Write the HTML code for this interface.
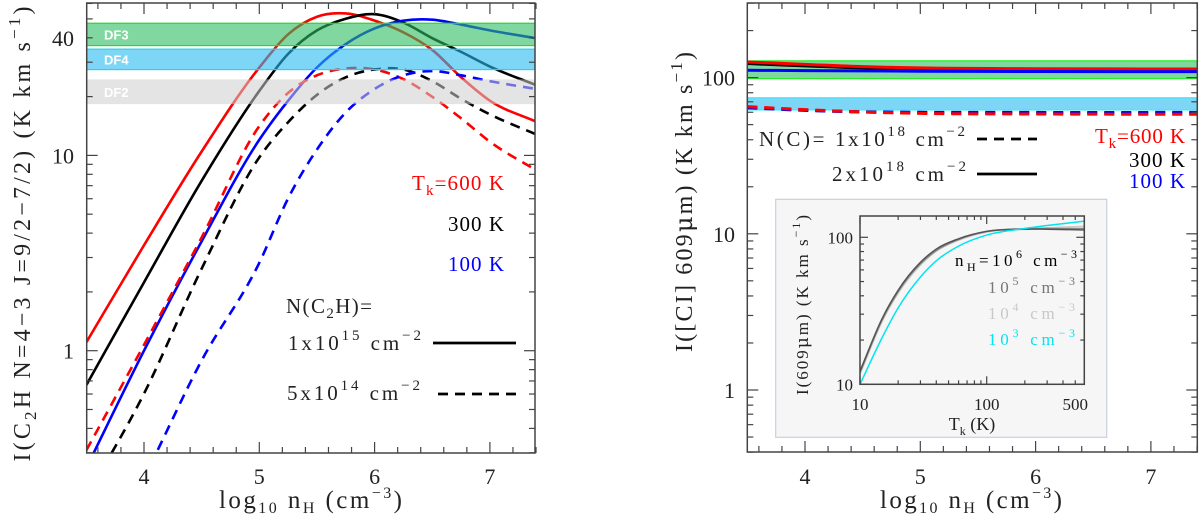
<!DOCTYPE html>
<html><head><meta charset="utf-8"><style>
html,body{margin:0;padding:0;background:#fff;overflow:hidden;width:1200px;height:522px;}
svg{display:block;font-family:"Liberation Serif","DejaVu Serif",serif;}
</style></head><body>
<svg id="fig" width="1200" height="522" viewBox="0 0 1200 522" xmlns="http://www.w3.org/2000/svg"></svg>
<script>
// ---------- data: left panel (log10 I vs log10 nH) ----------
const leftLogN = [3.5,4,4.5,5,5.25,5.5,5.75,6,6.25,6.5,6.75,7,7.4];
const c2hSolid600 = [0.043,0.54,1.02,1.45,1.62,1.71,1.727,1.69,1.63,1.54,1.40,1.28,1.173];
const c2hSolid300 = [-0.176,0.35,0.87,1.33,1.52,1.64,1.70,1.723,1.68,1.60,1.53,1.455,1.36];
const c2hSolid100 = [-0.6,0.0,0.56,1.08,1.28,1.45,1.57,1.65,1.69,1.695,1.67,1.64,1.60];
const c2hDash600 = [-0.51,0.03,0.58,1.15,1.32,1.41,1.445,1.44,1.39,1.30,1.19,1.07,0.924];
const c2hDash300 = [-0.75,-0.22,0.42,0.99,1.17,1.31,1.40,1.44,1.44,1.38,1.29,1.21,1.108];
const c2hDash100 = [-1.2,-0.65,-0.05,0.45,0.78,1.03,1.22,1.34,1.41,1.432,1.41,1.38,1.34];
const leftBands = [["DF3",36.5,47.5],["DF4",27.5,35.0],["DF2",18.3,24.5]];
const leftXTicks = [4,5,6,7];
const leftYLabels = [1,10,40];
// ---------- data: right panel ----------
const rightLogN = [3.5,4,4.5,5,6,7.4];
const ciSolid600 = [2.10,2.085,2.07,2.062,2.057,2.055];
const ciSolid300 = [2.09,2.075,2.062,2.055,2.052,2.05];
const ciSolid100 = [2.047,2.045,2.043,2.041,2.039,2.038];
const ciDash600 = [1.814,1.795,1.78,1.771,1.767,1.765];
const ciDash300 = [1.81,1.792,1.78,1.775,1.773,1.772];
const ciDash100 = [1.807,1.79,1.781,1.778,1.777,1.777];
const rightBands = [["green",98.5,128],["cyan",62.1,74.3]];
const rightYLabels = [1,10,100];
// ---------- data: inset (log10 I vs Tk) ----------
const insetTk = [10,15,20,30,40,60,100,200,300,590];
const inset1e6 = [1.09,1.45,1.64,1.83,1.92,1.99,2.04,2.055,2.055,2.05];
const inset1e5 = [1.08,1.44,1.63,1.82,1.91,1.985,2.04,2.058,2.06,2.06];
const inset1e4 = [1.07,1.43,1.62,1.81,1.905,1.98,2.035,2.06,2.065,2.075];
const inset1e3 = [1.0,1.32,1.52,1.73,1.84,1.94,2.015,2.06,2.08,2.11];
const insetXLabels = [10,100,500];
const insetYLabels = [10,100];

const NS="http://www.w3.org/2000/svg";
const svg=document.getElementById('fig');
function el(tag,attrs,parent){const e=document.createElementNS(NS,tag);for(const k in attrs)e.setAttribute(k,attrs[k]);(parent||svg).appendChild(e);return e;}
function smooth(pts){const n=pts.length;const m=[];
 for(let i=0;i<n;i++){if(i==0)m.push((pts[1][1]-pts[0][1])/(pts[1][0]-pts[0][0]));
  else if(i==n-1)m.push((pts[n-1][1]-pts[n-2][1])/(pts[n-1][0]-pts[n-2][0]));
  else{const s1=(pts[i][1]-pts[i-1][1])/(pts[i][0]-pts[i-1][0]),s2=(pts[i+1][1]-pts[i][1])/(pts[i+1][0]-pts[i][0]);
   const h1=pts[i][0]-pts[i-1][0],h2=pts[i+1][0]-pts[i][0];m.push((s1*h2+s2*h1)/(h1+h2));}}
 let d="M"+pts[0][0].toFixed(2)+","+pts[0][1].toFixed(2);
 for(let i=0;i<n-1;i++){const h=pts[i+1][0]-pts[i][0];
  const c1=[pts[i][0]+h/3,pts[i][1]+m[i]*h/3],c2=[pts[i+1][0]-h/3,pts[i+1][1]-m[i+1]*h/3];
  d+="C"+c1[0].toFixed(2)+","+c1[1].toFixed(2)+" "+c2[0].toFixed(2)+","+c2[1].toFixed(2)+" "+pts[i+1][0].toFixed(2)+","+pts[i+1][1].toFixed(2);}
 return d;}

// ===== LEFT PANEL =====
const L={x0:86.7,x1:535,y0:3,y1:453};
const lx=v=>144+(v-4)*115.3;
const ly=lg=>350.7-lg*195.3;
let defs=el('defs',{});
let cpL=el('clipPath',{id:'clipL'},defs);el('rect',{x:L.x0,y:L.y0,width:L.x1-L.x0,height:L.y1-L.y0},cpL);
let cpR=el('clipPath',{id:'clipR'},defs);el('rect',{x:747.3,y:3,width:450,height:449},cpR);
let cpI=el('clipPath',{id:'clipI'},defs);el('rect',{x:860,y:216,width:224.3,height:168.3},cpI);

const gL=el('g',{'clip-path':'url(#clipL)'});

function drawCurve(g,xs,ys,fx,fy,color,dash,w,name){
 const pts=xs.map((x,i)=>[fx(x),fy(ys[i])]);
 const p=el('path',{d:smooth(pts),fill:'none',stroke:color,'stroke-width':w,'stroke-dasharray':dash||'none'},g);
 
 
}
drawCurve(gL,leftLogN,c2hSolid600,lx,ly,'#ff0000',null,2.6,'c2h-solid-600k');
drawCurve(gL,leftLogN,c2hSolid300,lx,ly,'#000000',null,2.6,'c2h-solid-300k');
drawCurve(gL,leftLogN,c2hSolid100,lx,ly,'#0000ff',null,2.6,'c2h-solid-100k');
drawCurve(gL,leftLogN,c2hDash600,lx,ly,'#ff0000','10,7',2.6,'c2h-dashed-600k');
drawCurve(gL,leftLogN,c2hDash300,lx,ly,'#000000','10,7',2.6,'c2h-dashed-300k');
drawCurve(gL,leftLogN,c2hDash100,lx,ly,'#0000ff','10,7',2.6,'c2h-dashed-100k');
const bandStyle={DF3:['rgba(43,190,97,0.6)','#22dd22'],DF4:['rgba(38,187,238,0.6)','#33ccee'],DF2:['rgba(205,205,205,0.55)','none']};
leftBands.forEach(b=>{const yTop=ly(Math.log10(b[2])),yBot=ly(Math.log10(b[1]));const st=bandStyle[b[0]];
 const r=el('rect',{x:L.x0,y:yTop,width:L.x1-L.x0,height:yBot-yTop,fill:st[0],stroke:st[1],'stroke-width':1.2},gL);
 
 const t=el('text',{x:104,y:(yTop+yBot)/2+5,fill:'#ffffff','font-family':'"Liberation Sans",sans-serif','font-weight':'bold','font-size':13},gL);
 t.textContent=b[0];});

function frame(x0,y0,x1,y1,name){const r=el('rect',{x:x0,y:y0,width:x1-x0,height:y1-y0,fill:'none',stroke:'#444','stroke-width':1.5});}
frame(L.x0,L.y0,L.x1,L.y1,'left-frame');
function ticks(x0,y0,x1,y1,fx,fy,xmin,xmax,xstep,ymin,ymax,lenMaj,lenMin,isXlog){
 const g=el('g',{stroke:'#444','stroke-width':1.2});
 if(!isXlog){for(let v=Math.ceil(xmin/xstep)*xstep;v<=xmax+1e-9;v+=xstep){const maj=Math.abs(v-Math.round(v))<1e-6;const X=fx(v),l=maj?lenMaj:lenMin;
  el('line',{x1:X,y1:y1,x2:X,y2:y1-l},g);el('line',{x1:X,y1:y0,x2:X,y2:y0+l},g);}}
 else{for(let d=Math.floor(xmin);d<=xmax;d++)for(let k=1;k<10;k++){const lv=d+Math.log10(k);if(lv<xmin||lv>xmax)continue;const X=fx(lv),l=k==1?lenMaj:lenMin;
  el('line',{x1:X,y1:y1,x2:X,y2:y1-l},g);el('line',{x1:X,y1:y0,x2:X,y2:y0+l},g);}}
 for(let d=Math.floor(ymin);d<=ymax;d++)for(let k=1;k<10;k++){const lv=d+Math.log10(k);if(lv<ymin||lv>ymax)continue;const Y=fy(lv),l=k==1?lenMaj:lenMin;
  el('line',{x1:x0,y1:Y,x2:x0+l,y2:Y},g);el('line',{x1:x1,y1:Y,x2:x1-l,y2:Y},g);}
}
ticks(L.x0,L.y0,L.x1,L.y1,lx,ly,3.5,7.4,0.2,Math.log10(0.3),Math.log10(60),11,6,false);
function txt(x,y,s,opts,name){const t=el('text',Object.assign({x:x,y:y},opts||{}));t.innerHTML=s;return t;}
const xTitle='log<tspan font-size="16" dy="5">10</tspan><tspan dy="-5"> n</tspan><tspan font-size="16" dy="5">H</tspan><tspan dy="-5"> (cm</tspan><tspan font-size="16" dy="-10">−3</tspan><tspan dy="10">)</tspan>';
leftXTicks.forEach(v=>txt(lx(v),484,String(v),{'text-anchor':'middle','font-size':22,fill:'#222'},'left-x-tick-'+v));
leftYLabels.forEach(v=>txt(74,ly(Math.log10(v))+8,String(v),{'text-anchor':'end','font-size':22,fill:'#222'},'left-y-tick-'+v));
txt(219,508,xTitle,{'font-size':25,fill:'#222',textLength:183,lengthAdjust:'spacing'},'left-x-axis-title');
txt(0,0,'I(C<tspan font-size="17" dy="6">2</tspan><tspan dy="-6">H N=4−3   J=9/2−7/2)  (K km s</tspan><tspan font-size="17" dy="-10">−1</tspan><tspan dy="10">)</tspan>',{'text-anchor':'middle','font-size':24,fill:'#222','transform':'translate(30,234) rotate(-90)','xml:space':'preserve',textLength:455,lengthAdjust:'spacing'},'left-y-axis-title');
txt(504,190,'T<tspan font-size="15" dy="5">k</tspan><tspan dy="-5">=600 K</tspan>',{'text-anchor':'end','font-size':21,fill:'#ff0000',textLength:92,lengthAdjust:'spacing'},'legend-600k');
txt(504,231,'300 K',{'text-anchor':'end','font-size':21,fill:'#000',textLength:56,lengthAdjust:'spacing'},'legend-300k');
txt(504,271,'100 K',{'text-anchor':'end','font-size':21,fill:'#0000ff',textLength:56,lengthAdjust:'spacing'},'legend-100k');
txt(286,313,'N(C<tspan font-size="15" dy="5">2</tspan><tspan dy="-5">H)=</tspan>',{'font-size':21,fill:'#222',textLength:86,lengthAdjust:'spacing'},'legend-title-nc2h');
txt(288,350,'1x10<tspan font-size="15" dy="-10">15</tspan><tspan dy="10"> cm</tspan><tspan font-size="15" dy="-10">−2</tspan>',{'font-size':21,fill:'#222',textLength:133,lengthAdjust:'spacing'},'legend-1e15');
txt(287,400,'5x10<tspan font-size="15" dy="-10">14</tspan><tspan dy="10"> cm</tspan><tspan font-size="15" dy="-10">−2</tspan>',{'font-size':21,fill:'#222',textLength:133,lengthAdjust:'spacing'},'legend-5e14');
let l1=el('line',{x1:433,y1:343,x2:516,y2:343,stroke:'#000','stroke-width':2.8});
let l2=el('line',{x1:438,y1:394,x2:516,y2:394,stroke:'#000','stroke-width':2.8,'stroke-dasharray':'10,7'});

// ===== RIGHT PANEL =====
const R={x0:747.3,y0:3,x1:1197.3,y1:452};
const rx=v=>805+(v-4)*115.3;
const ry=lg=>390-lg*156.2;
const gR=el('g',{'clip-path':'url(#clipR)'});

const rbs={green:['rgba(43,190,97,0.6)','#22ee22'],cyan:['rgba(38,187,238,0.6)','#33eeff']};
rightBands.forEach(b=>{const yTop=ry(Math.log10(b[2])),yBot=ry(Math.log10(b[1]));
 const r=el('rect',{x:R.x0,y:yTop,width:R.x1-R.x0,height:yBot-yTop,fill:rbs[b[0]][0],stroke:rbs[b[0]][1],'stroke-width':1.2},gR);
 });
drawCurve(gR,rightLogN,ciDash300,rx,ry,'#000000','10,7',3,'ci-dashed-300k');
drawCurve(gR,rightLogN,ciDash100,rx,ry,'#0000ff','10,7',3,'ci-dashed-100k');
drawCurve(gR,rightLogN,ciDash600,rx,ry,'#ff0000','10,7',3,'ci-dashed-600k');
drawCurve(gR,rightLogN,ciSolid300,rx,ry,'#000000',null,3,'ci-solid-300k');
drawCurve(gR,rightLogN,ciSolid600,rx,ry,'#ff0000',null,3,'ci-solid-600k');
drawCurve(gR,rightLogN,ciSolid100,rx,ry,'#0000ff',null,3,'ci-solid-100k');
frame(R.x0,R.y0,R.x1,R.y1,'right-frame');
ticks(R.x0,R.y0,R.x1,R.y1,rx,ry,3.5,7.4,0.2,Math.log10(0.4),Math.log10(300),11,6,false);
leftXTicks.forEach(v=>txt(rx(v),484,String(v),{'text-anchor':'middle','font-size':22,fill:'#222'},'right-x-tick-'+v));
rightYLabels.forEach(v=>txt(735,ry(Math.log10(v))+8,String(v),{'text-anchor':'end','font-size':22,fill:'#222'},'right-y-tick-'+v));
txt(880,508,xTitle,{'font-size':25,fill:'#222',textLength:182,lengthAdjust:'spacing'},'right-x-axis-title');
txt(0,0,'I([CI] 609<tspan font-family="DejaVu Serif">μ</tspan>m)  (K km s<tspan font-size="17" dy="-10">−1</tspan><tspan dy="10">)</tspan>',{'text-anchor':'middle','font-size':24,fill:'#222','transform':'translate(692,202) rotate(-90)','xml:space':'preserve',textLength:300,lengthAdjust:'spacing'},'right-y-axis-title');
txt(759,146,'N(C)=  1x10<tspan font-size="15" dy="-10">18</tspan><tspan dy="10"> cm</tspan><tspan font-size="15" dy="-10">−2</tspan>',{'font-size':21,fill:'#222','xml:space':'preserve',textLength:206,lengthAdjust:'spacing'},'legend-nc-1e18');
txt(832,181,'2x10<tspan font-size="15" dy="-10">18</tspan><tspan dy="10"> cm</tspan><tspan font-size="15" dy="-10">−2</tspan>',{'font-size':21,fill:'#222',textLength:134,lengthAdjust:'spacing'},'legend-nc-2e18');
let l3=el('line',{x1:977,y1:139,x2:1037,y2:139,stroke:'#000','stroke-width':2.8,'stroke-dasharray':'10,7'});
let l4=el('line',{x1:977,y1:174,x2:1037,y2:174,stroke:'#000','stroke-width':2.8});
txt(1185,143,'T<tspan font-size="15" dy="5">k</tspan><tspan dy="-5">=600 K</tspan>',{'text-anchor':'end','font-size':21,fill:'#ff0000',textLength:90,lengthAdjust:'spacing'},'right-legend-600k');
txt(1185,167,'300 K',{'text-anchor':'end','font-size':21,fill:'#000',textLength:56,lengthAdjust:'spacing'},'right-legend-300k');
txt(1185,188,'100 K',{'text-anchor':'end','font-size':21,fill:'#0000ff',textLength:56,lengthAdjust:'spacing'},'right-legend-100k');

// ===== INSET =====
let ib=el('rect',{x:775.7,y:199.3,width:331,height:238,fill:'#f6f6f7',stroke:'#c8d0dc','stroke-width':1.2});
const ixv=T=>860+(Math.log10(T)-1)*126.7;
const ix=lg=>860+(lg-1)*126.7;
const iy=lg=>237.3+(2-lg)*147;
const gI=el('g',{'clip-path':'url(#clipI)'});

drawCurve(gI,insetTk,inset1e4,ixv,iy,'#cccccc',null,1.5,'inset-curve-1e4');
drawCurve(gI,insetTk,inset1e5,ixv,iy,'#888888',null,1.5,'inset-curve-1e5');
drawCurve(gI,insetTk,inset1e6,ixv,iy,'#555555',null,1.5,'inset-curve-1e6');
drawCurve(gI,insetTk,inset1e3,ixv,iy,'#00e5ee',null,1.5,'inset-curve-1e3');
frame(860,216,1084.3,384.3,'inset-frame');
ticks(860,216,1084.3,384.3,ix,iy,1,Math.log10(590),1,1,Math.log10(140),8,4,true);
insetXLabels.forEach(v=>txt(ixv(v),410,String(v),{'text-anchor':'middle','font-size':17,fill:'#222'},'inset-x-tick-'+v));
insetYLabels.forEach(v=>txt(853,iy(Math.log10(v))+6,String(v),{'text-anchor':'end','font-size':17,fill:'#222'},'inset-y-tick-'+v));
txt(972,430,'T<tspan font-size="12" dy="5">k</tspan><tspan dy="-5">  (K)</tspan>',{'text-anchor':'middle','font-size':18,fill:'#222','xml:space':'preserve'},'inset-x-axis-title');
txt(0,0,'I(609<tspan font-family="DejaVu Serif">μ</tspan>m)  (K km s<tspan font-size="12" dy="-8">−1</tspan><tspan dy="8">)</tspan>',{'text-anchor':'middle','font-size':17,fill:'#222','transform':'translate(808,305) rotate(-90)','xml:space':'preserve',textLength:180,lengthAdjust:'spacing'},'inset-y-axis-title');
txt(955,266,'n<tspan font-size="12" dy="5">H</tspan><tspan dy="-5">=10</tspan><tspan font-size="12" dy="-8">6</tspan><tspan dy="8"> cm</tspan><tspan font-size="12" dy="-8">−3</tspan>',{'font-size':17,fill:'#000',textLength:122,lengthAdjust:'spacing'},'inset-legend-1e6');
txt(988,293,'10<tspan font-size="12" dy="-8">5</tspan><tspan dy="8"> cm</tspan><tspan font-size="12" dy="-8">−3</tspan>',{'font-size':17,fill:'#777',textLength:87,lengthAdjust:'spacing'},'inset-legend-1e5');
txt(988,319,'10<tspan font-size="12" dy="-8">4</tspan><tspan dy="8"> cm</tspan><tspan font-size="12" dy="-8">−3</tspan>',{'font-size':17,fill:'#c8c8c8',textLength:87,lengthAdjust:'spacing'},'inset-legend-1e4');
txt(988,345,'10<tspan font-size="12" dy="-8">3</tspan><tspan dy="8"> cm</tspan><tspan font-size="12" dy="-8">−3</tspan>',{'font-size':17,fill:'#00e5ee',textLength:87,lengthAdjust:'spacing'},'inset-legend-1e3');
</script>
</body></html>
